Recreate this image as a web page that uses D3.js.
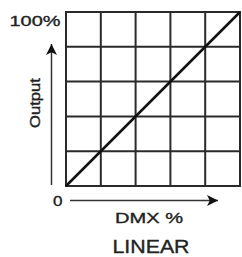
<!DOCTYPE html>
<html>
<head>
<meta charset="utf-8">
<script src="https://cdn.jsdelivr.net/npm/d3@7"></script>
<style>
  body { margin: 0; background: #fff; }
  text { font-family: "Liberation Sans", Arial, sans-serif; fill: #222; stroke: #222; stroke-width: 0.35px; }
</style>
</head>
<body>
<svg id="chart" width="242" height="257"></svg>
<script>
// grid divisions (percent of DMX / output)
const gridTicks = [0, 20, 40, 60, 80, 100]
// the linear response curve
const dmxValues = [0, 100]
const outputValues = [0, 100]
const yTopLabel = "100%"
const originLabel = "0"
const xLabel = "DMX %"
const yLabel = "Output"
const title = "LINEAR"

const svg = d3.select("#chart")

const x = d3.scaleLinear().domain([0, 100]).range([66, 240])
const y = d3.scaleLinear().domain([0, 100]).range([186, 12])

// arrow marker
svg.append("defs").append("marker")
  .attr("id", "arrow")
  .attr("viewBox", "0 0 10 10")
  .attr("refX", 10).attr("refY", 5)
  .attr("markerWidth", 15).attr("markerHeight", 11)
  .attr("markerUnits", "userSpaceOnUse")
  .attr("orient", "auto")
  .append("path")
  .attr("d", "M0,0 L10,5 L0,10 L2.5,5 Z")
  .attr("fill", "#111")

// grid
let grid = svg.append("g")
grid.selectAll(".v").data(gridTicks).enter().append("line")
  .attr("x1", d => x(d)).attr("x2", d => x(d))
  .attr("y1", y(0)).attr("y2", y(100))
  .attr("stroke", "#2a2a2a").attr("stroke-width", 2)
grid.selectAll(".h").data(gridTicks).enter().append("line")
  .attr("y1", d => y(d)).attr("y2", d => y(d))
  .attr("x1", x(0) - 1).attr("x2", x(100) + 1)
  .attr("stroke", "#2a2a2a").attr("stroke-width", 2)

// curve
let line = d3.line().x(d => x(d[0])).y(d => y(d[1]))
svg.append("path")
  .datum(d3.zip(dmxValues, outputValues))
  .attr("d", line)
  .attr("fill", "none")
  .attr("stroke", "#111")
  .attr("stroke-width", 2.5)

// axis arrows
svg.append("line")
  .attr("x1", 51.5).attr("x2", 51.5)
  .attr("y1", 185).attr("y2", 44)
  .attr("stroke", "#333").attr("stroke-width", 1.5)
  .attr("marker-end", "url(#arrow)")
svg.append("line")
  .attr("x1", 70).attr("x2", 218)
  .attr("y1", 200.5).attr("y2", 200.5)
  .attr("stroke", "#333").attr("stroke-width", 1.5)
  .attr("marker-end", "url(#arrow)")

// labels
svg.append("text").text(yTopLabel)
  .attr("x", 9.5).attr("y", 26)
  .attr("font-size", 14.5)
  .attr("textLength", 51).attr("lengthAdjust", "spacingAndGlyphs")
svg.append("text").text(originLabel)
  .attr("x", 53).attr("y", 205.5)
  .attr("font-size", 14)
  .attr("textLength", 9.5).attr("lengthAdjust", "spacingAndGlyphs")
svg.append("text").text(yLabel)
  .attr("transform", "translate(39.5,128) rotate(-90)")
  .attr("font-size", 14)
  .attr("textLength", 50).attr("lengthAdjust", "spacingAndGlyphs")
svg.append("text").text(xLabel)
  .attr("x", 115).attr("y", 223)
  .attr("font-size", 14.5)
  .attr("textLength", 68).attr("lengthAdjust", "spacingAndGlyphs")
svg.append("text").text(title)
  .attr("x", 112.5).attr("y", 252.5)
  .attr("font-size", 19)
  .attr("textLength", 77).attr("lengthAdjust", "spacingAndGlyphs")
</script>
</body>
</html>
